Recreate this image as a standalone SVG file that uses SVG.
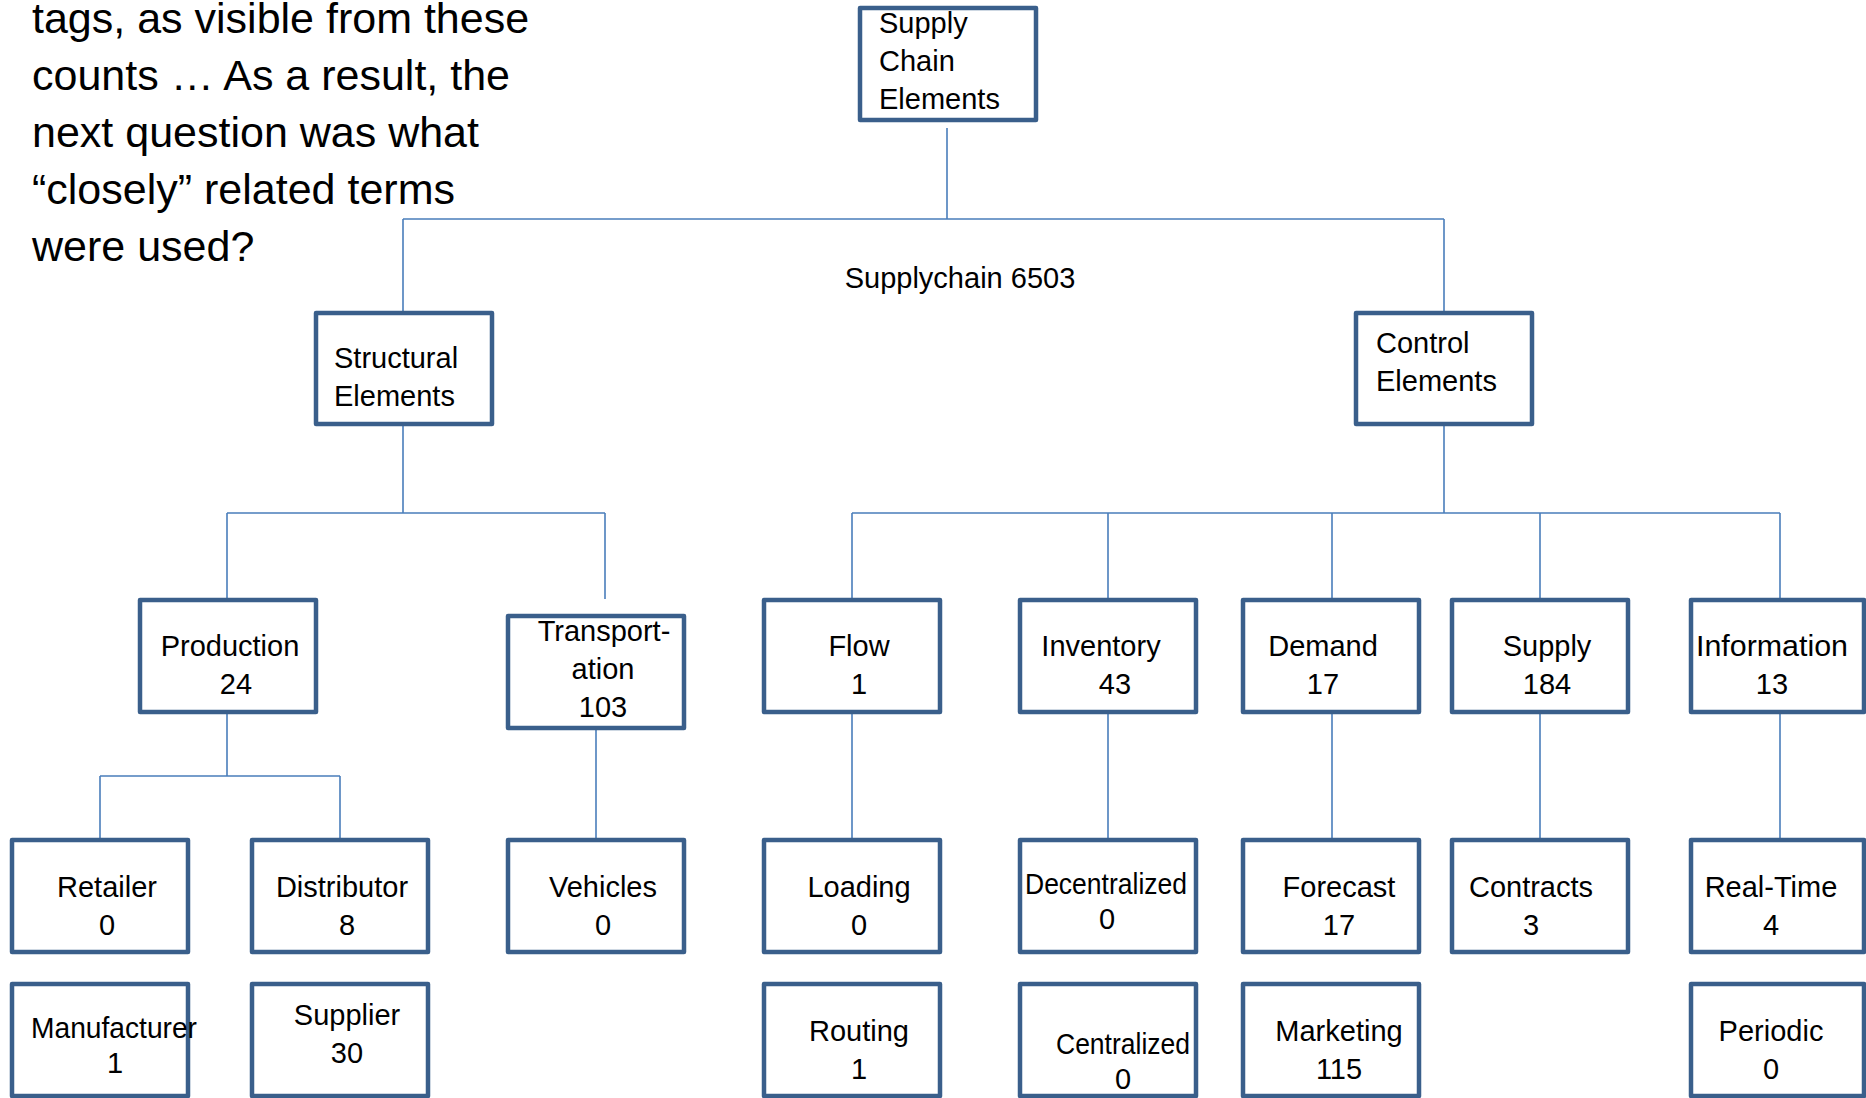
<svg xmlns="http://www.w3.org/2000/svg" width="1866" height="1098" viewBox="0 0 1866 1098">
<style>
.box{fill:#ffffff;stroke:#3a5f8b;stroke-width:4.5;stroke-linejoin:round}
.lbl{font-family:"Liberation Sans",Arial,sans-serif;font-size:29px;fill:#000}
.c{text-anchor:middle}
.head{font-family:"Liberation Sans",Arial,sans-serif;font-size:43px;fill:#000}
.conn{fill:none;stroke:#4a7ebb;stroke-width:1.6}
</style>
<rect width="1866" height="1098" fill="#ffffff"/>
<g id="heading">
<text class="head" x="32" y="33">tags, as visible from these</text>
<text class="head" x="32" y="90">counts … As a result, the</text>
<text class="head" x="32" y="147">next question was what</text>
<text class="head" x="32" y="204">“closely” related terms</text>
<text class="head" x="32" y="261">were used?</text>
</g>
<g id="connectors">
<path class="conn" d="M947 128V219M403 219H1444M403 219V311M1444 219V311"/>
<path class="conn" d="M403 426V513M227 513H605M227 513V599M605 513V599"/>
<path class="conn" d="M227 714V776M100 776H340M100 776V839M340 776V839"/>
<path class="conn" d="M596 728V839"/>
<path class="conn" d="M1444 426V513M852 513H1780M852 513V599M1108 513V599M1332 513V599M1540 513V599M1780 513V599"/>
<path class="conn" d="M852 714V839M1108 714V839M1332 714V839M1540 714V839M1780 714V839"/>
</g>
<text class="lbl" x="960" y="288" text-anchor="middle">Supplychain 6503</text>
<g id="n-root"><rect class="box" x="860" y="8" width="176" height="112"/>
<text class="lbl" x="879" y="33">Supply</text><text class="lbl" x="879" y="71">Chain</text><text class="lbl" x="879" y="109">Elements</text></g>
<g id="n-structural"><rect class="box" x="316" y="313" width="176" height="111"/>
<text class="lbl" x="334" y="368">Structural</text><text class="lbl" x="334" y="406">Elements</text></g>
<g id="n-control"><rect class="box" x="1356" y="313" width="176" height="111"/>
<text class="lbl" x="1376" y="353">Control</text><text class="lbl" x="1376" y="391">Elements</text></g>
<g id="n-production"><rect class="box" x="140" y="600" width="176" height="112"/>
<text class="lbl c" x="230" y="656">Production</text><text class="lbl c" x="236" y="694">24</text></g>
<g id="n-transportation"><rect class="box" x="508" y="616" width="176" height="112"/>
<text class="lbl c" x="604" y="641">Transport-</text><text class="lbl c" x="603" y="679">ation</text><text class="lbl c" x="603" y="717">103</text></g>
<g id="n-flow"><rect class="box" x="764" y="600" width="176" height="112"/>
<text class="lbl c" x="859" y="656">Flow</text><text class="lbl c" x="859" y="694">1</text></g>
<g id="n-inventory"><rect class="box" x="1020" y="600" width="176" height="112"/>
<text class="lbl c" x="1101" y="656">Inventory</text><text class="lbl c" x="1115" y="694">43</text></g>
<g id="n-demand"><rect class="box" x="1243" y="600" width="176" height="112"/>
<text class="lbl c" x="1323" y="656">Demand</text><text class="lbl c" x="1323" y="694">17</text></g>
<g id="n-supply"><rect class="box" x="1452" y="600" width="176" height="112"/>
<text class="lbl c" x="1547" y="656">Supply</text><text class="lbl c" x="1547" y="694">184</text></g>
<g id="n-information"><rect class="box" x="1691" y="600" width="173" height="112"/>
<text class="lbl c" x="1772" y="656" textLength="152" lengthAdjust="spacingAndGlyphs">Information</text><text class="lbl c" x="1772" y="694">13</text></g>
<g id="n-retailer"><rect class="box" x="12" y="840" width="176" height="112"/>
<text class="lbl c" x="107" y="897">Retailer</text><text class="lbl c" x="107" y="935">0</text></g>
<g id="n-distributor"><rect class="box" x="252" y="840" width="176" height="112"/>
<text class="lbl c" x="342" y="897">Distributor</text><text class="lbl c" x="347" y="935">8</text></g>
<g id="n-vehicles"><rect class="box" x="508" y="840" width="176" height="112"/>
<text class="lbl c" x="603" y="897">Vehicles</text><text class="lbl c" x="603" y="935">0</text></g>
<g id="n-loading"><rect class="box" x="764" y="840" width="176" height="112"/>
<text class="lbl c" x="859" y="897">Loading</text><text class="lbl c" x="859" y="935">0</text></g>
<g id="n-decentralized"><rect class="box" x="1020" y="840" width="176" height="112"/>
<text class="lbl c" x="1106" y="894" textLength="162" lengthAdjust="spacingAndGlyphs">Decentralized</text><text class="lbl c" x="1107" y="929">0</text></g>
<g id="n-forecast"><rect class="box" x="1243" y="840" width="176" height="112"/>
<text class="lbl c" x="1339" y="897">Forecast</text><text class="lbl c" x="1339" y="935">17</text></g>
<g id="n-contracts"><rect class="box" x="1452" y="840" width="176" height="112"/>
<text class="lbl c" x="1531" y="897">Contracts</text><text class="lbl c" x="1531" y="935">3</text></g>
<g id="n-realtime"><rect class="box" x="1691" y="840" width="173" height="112"/>
<text class="lbl c" x="1771" y="897">Real-Time</text><text class="lbl c" x="1771" y="935">4</text></g>
<g id="n-manufacturer"><rect class="box" x="12" y="984" width="176" height="112"/>
<text class="lbl c" x="114" y="1038" textLength="166" lengthAdjust="spacingAndGlyphs">Manufacturer</text><text class="lbl c" x="115" y="1073">1</text></g>
<g id="n-supplier"><rect class="box" x="252" y="984" width="176" height="112"/>
<text class="lbl c" x="347" y="1025">Supplier</text><text class="lbl c" x="347" y="1063">30</text></g>
<g id="n-routing"><rect class="box" x="764" y="984" width="176" height="112"/>
<text class="lbl c" x="859" y="1041">Routing</text><text class="lbl c" x="859" y="1079">1</text></g>
<g id="n-centralized"><rect class="box" x="1020" y="984" width="176" height="112"/>
<text class="lbl c" x="1123" y="1054" textLength="134" lengthAdjust="spacingAndGlyphs">Centralized</text><text class="lbl c" x="1123" y="1089">0</text></g>
<g id="n-marketing"><rect class="box" x="1243" y="984" width="176" height="112"/>
<text class="lbl c" x="1339" y="1041">Marketing</text><text class="lbl c" x="1339" y="1079">115</text></g>
<g id="n-periodic"><rect class="box" x="1691" y="984" width="173" height="112"/>
<text class="lbl c" x="1771" y="1041">Periodic</text><text class="lbl c" x="1771" y="1079">0</text></g>
</svg>
